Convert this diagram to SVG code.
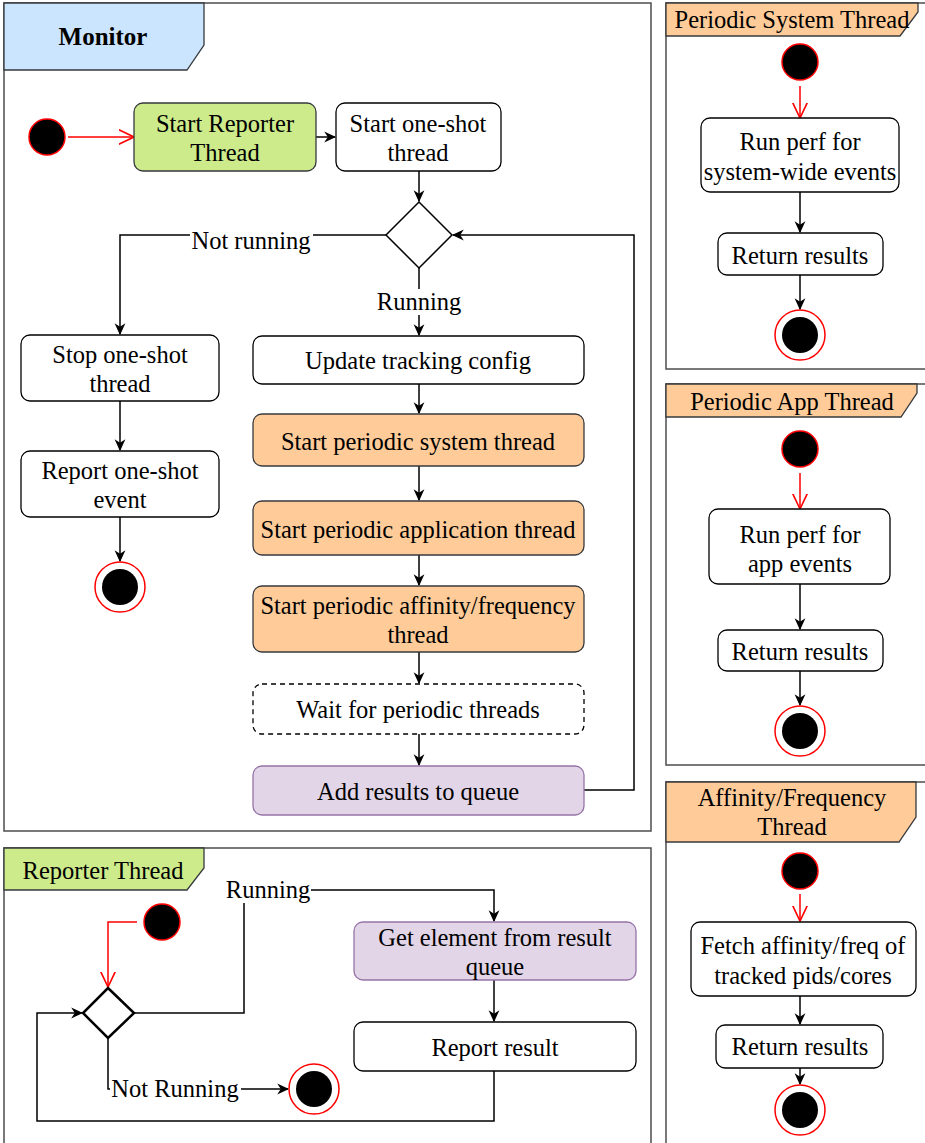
<svg xmlns="http://www.w3.org/2000/svg" width="925" height="1143" viewBox="0 0 925 1143">
<defs>
<style>
text{font-family:"Liberation Serif","Times New Roman",serif;font-size:24.5px;fill:#000;text-anchor:middle;dominant-baseline:central;transform:translateY(-1px)}
.frame{fill:#fff;stroke:#4d4d4d;stroke-width:1.5}
.node{fill:#fff;stroke:#000;stroke-width:1.3}
.green{fill:#cdeb8b;stroke:#36393d;stroke-width:1.3}
.orange{fill:#ffcc99;stroke:#36393d;stroke-width:1.3}
.purple{fill:#e1d5e7;stroke:#9673a6;stroke-width:1.3}
.hdrBlue{fill:#cce5ff;stroke:#36393d;stroke-width:1.3}
.hdrGreen{fill:#cdeb8b;stroke:#36393d;stroke-width:1.3}
.hdrOrange{fill:#ffcc99;stroke:#36393d;stroke-width:1.3}
.start{fill:#000;stroke:#ff0000;stroke-width:1.5}
.endo{fill:#fff;stroke:#ff0000;stroke-width:1.5}
.edge{fill:none;stroke:#000;stroke-width:1.5}
.red{fill:none;stroke:#ff0000;stroke-width:1.5}
.lbl{fill:#fff;stroke:none}
</style>
<marker id="ah" viewBox="0 0 10 10" refX="9" refY="5" markerWidth="12" markerHeight="12" markerUnits="userSpaceOnUse" orient="auto"><path d="M0,0.5 L10,5 L0,9.5 L3,5 Z" fill="#000"/></marker>
<marker id="oh" viewBox="0 0 10 10" refX="9.5" refY="5" markerWidth="16" markerHeight="16" markerUnits="userSpaceOnUse" orient="auto"><path d="M0,0.5 L9.5,5 L0,9.5" fill="none" stroke="#ff0000" stroke-width="1"/></marker>
</defs>

<!-- Frames -->
<g id="frame-monitor">
<rect class="frame" x="4" y="3" width="647" height="828"/>
<path class="hdrBlue" d="M4,3 H204 V45 L187,70 H4 Z"/>
<text x="103" y="37" style="font-weight:bold;font-size:25px">Monitor</text>
</g>
<g id="frame-reporter">
<rect class="frame" x="4" y="848" width="647" height="300"/>
<path class="hdrGreen" d="M4,848 H204 V868 L187,890 H4 Z"/>
<text x="103" y="871">Reporter Thread</text>
</g>
<g id="frame-psys">
<rect class="frame" x="666" y="3" width="265" height="366"/>
<path class="hdrOrange" d="M666,3 H918 V12 L900,36 H666 Z"/>
<text x="792" y="20">Periodic System Thread</text>
</g>
<g id="frame-papp">
<rect class="frame" x="666" y="384" width="265" height="381"/>
<path class="hdrOrange" d="M666,384 H917 V393 L901,417 H666 Z"/>
<text x="792" y="402">Periodic App Thread</text>
</g>
<g id="frame-aff">
<rect class="frame" x="666" y="782" width="265" height="370"/>
<path class="hdrOrange" d="M666,782 H916 V817 L899,842 H666 Z"/>
<text x="792" y="798">Affinity/Frequency</text>
<text x="792" y="827">Thread</text>
</g>

<!-- Connectors -->
<g id="connectors">
<path class="red" d="M68,137 H134" marker-end="url(#oh)"/>
<path class="edge" d="M316,137 H335" marker-end="url(#ah)"/>
<path class="edge" d="M419,171 V201" marker-end="url(#ah)"/>
<path class="edge" d="M386,235 H120 V334" marker-end="url(#ah)"/>
<path class="edge" d="M419,268 V335" marker-end="url(#ah)"/>
<path class="edge" d="M584,790 H634 V235 H453" marker-end="url(#ah)"/>
<path class="edge" d="M120,401 V450" marker-end="url(#ah)"/>
<path class="edge" d="M120,517 V561" marker-end="url(#ah)"/>
<path class="edge" d="M419,384 V413" marker-end="url(#ah)"/>
<path class="edge" d="M419,466 V500" marker-end="url(#ah)"/>
<path class="edge" d="M419,555 V585" marker-end="url(#ah)"/>
<path class="edge" d="M419,652 V683" marker-end="url(#ah)"/>
<path class="edge" d="M419,734 V765" marker-end="url(#ah)"/>
<rect class="lbl" x="190" y="228" width="123" height="26"/>
<text x="251" y="241">Not running</text>
<rect class="lbl" x="375" y="289" width="88" height="26"/>
<text x="419" y="302">Running</text>

<!-- right panels -->
<path class="red" d="M800,86 V118" marker-end="url(#oh)"/>
<path class="edge" d="M800,192 V232" marker-end="url(#ah)"/>
<path class="edge" d="M800,275 V309" marker-end="url(#ah)"/>
<path class="red" d="M800,473 V509" marker-end="url(#oh)"/>
<path class="edge" d="M800,584 V629" marker-end="url(#ah)"/>
<path class="edge" d="M800,671 V705" marker-end="url(#ah)"/>
<path class="red" d="M800,894 V921" marker-end="url(#oh)"/>
<path class="edge" d="M800,996 V1024" marker-end="url(#ah)"/>
<path class="edge" d="M800,1068 V1084" marker-end="url(#ah)"/>

<!-- reporter -->
<path class="red" d="M137,922 H108 V987" marker-end="url(#oh)"/>
<path class="edge" d="M134,1013 H244 V890 H494 V921" marker-end="url(#ah)"/>
<path class="edge" d="M108,1038 V1089 H288" marker-end="url(#ah)"/>
<path class="edge" d="M494,1071 V1121 H37 V1013 H82" marker-end="url(#ah)"/>
<path class="edge" d="M494,980 V1021" marker-end="url(#ah)"/>
<rect class="lbl" x="225" y="877" width="86" height="26"/>
<text x="268" y="890">Running</text>
<rect class="lbl" x="110" y="1076" width="131" height="26"/>
<text x="175" y="1089">Not Running</text>
</g>

<!-- Monitor nodes -->
<g id="m-start"><circle class="start" cx="47" cy="137" r="18"/></g>
<g id="m-start-reporter"><rect class="green" x="134" y="103" width="182" height="68" rx="9"/><text x="225" y="124">Start Reporter</text><text x="225" y="153">Thread</text></g>
<g id="m-start-oneshot"><rect class="node" x="336" y="103" width="165" height="68" rx="9"/><text x="418" y="124">Start one-shot</text><text x="418" y="153">thread</text></g>
<g id="m-decision"><path class="node" d="M419,202 L452,235 L419,268 L386,235 Z" style="stroke-width:1.5"/></g>
<g id="m-stop-oneshot"><rect class="node" x="21" y="335" width="198" height="66" rx="9"/><text x="120" y="355">Stop one-shot</text><text x="120" y="384">thread</text></g>
<g id="m-report-oneshot"><rect class="node" x="21" y="451" width="198" height="66" rx="9"/><text x="120" y="471">Report one-shot</text><text x="120" y="500">event</text></g>
<g id="m-end"><circle class="endo" cx="120" cy="587" r="25"/><circle cx="120" cy="587" r="18" fill="#000"/></g>
<g id="m-update"><rect class="node" x="253" y="336" width="331" height="48" rx="9"/><text x="418" y="361">Update tracking config</text></g>
<g id="m-psys"><rect class="orange" x="253" y="414" width="331" height="52" rx="9"/><text x="418" y="442">Start periodic system thread</text></g>
<g id="m-papp"><rect class="orange" x="253" y="501" width="331" height="54" rx="9"/><text x="418" y="530">Start periodic application thread</text></g>
<g id="m-paff"><rect class="orange" x="253" y="586" width="331" height="66" rx="9"/><text x="418" y="606">Start periodic affinity/frequency</text><text x="418" y="635">thread</text></g>
<g id="m-wait"><rect class="node" x="253" y="684" width="331" height="50" rx="9" style="stroke-dasharray:5 4"/><text x="418" y="710">Wait for periodic threads</text></g>
<g id="m-add"><rect class="purple" x="253" y="766" width="331" height="49" rx="9"/><text x="418" y="792">Add results to queue</text></g>

<!-- Reporter nodes -->
<g id="r-start"><circle class="start" cx="162" cy="922" r="18"/></g>
<g id="r-decision"><path class="node" d="M108,988 L134,1013 L108,1038 L83,1013 Z" style="stroke-width:2.5"/></g>
<g id="r-get"><rect class="purple" x="354" y="922" width="282" height="58" rx="9"/><text x="495" y="938">Get element from result</text><text x="495" y="967">queue</text></g>
<g id="r-report"><rect class="node" x="354" y="1022" width="282" height="49" rx="9"/><text x="495" y="1048">Report result</text></g>
<g id="r-end"><circle class="endo" cx="314" cy="1089" r="25"/><circle cx="314" cy="1089" r="18" fill="#000"/></g>

<!-- Periodic System -->
<g id="ps-start"><circle class="start" cx="800" cy="62" r="18"/></g>
<g id="ps-run"><rect class="node" x="701" y="118" width="198" height="74" rx="9"/><text x="800" y="142">Run perf for</text><text x="800" y="172">system-wide events</text></g>
<g id="ps-ret"><rect class="node" x="718" y="233" width="165" height="42" rx="9"/><text x="800" y="256">Return results</text></g>
<g id="ps-end"><circle class="endo" cx="800" cy="335" r="25"/><circle cx="800" cy="335" r="18" fill="#000"/></g>

<!-- Periodic App -->
<g id="pa-start"><circle class="start" cx="800" cy="449" r="18"/></g>
<g id="pa-run"><rect class="node" x="709" y="509" width="181" height="75" rx="9"/><text x="800" y="535">Run perf for</text><text x="800" y="564">app events</text></g>
<g id="pa-ret"><rect class="node" x="718" y="630" width="165" height="41" rx="9"/><text x="800" y="652">Return results</text></g>
<g id="pa-end"><circle class="endo" cx="800" cy="731" r="25"/><circle cx="800" cy="731" r="18" fill="#000"/></g>

<!-- Affinity -->
<g id="af-start"><circle class="start" cx="800" cy="871" r="18"/></g>
<g id="af-fetch"><rect class="node" x="691" y="922" width="225" height="74" rx="9"/><text x="803" y="946">Fetch affinity/freq of</text><text x="803" y="976">tracked pids/cores</text></g>
<g id="af-ret"><rect class="node" x="716" y="1025" width="167" height="43" rx="9"/><text x="800" y="1047">Return results</text></g>
<g id="af-end"><circle class="endo" cx="800" cy="1110" r="25"/><circle cx="800" cy="1110" r="18" fill="#000"/></g>
</svg>
